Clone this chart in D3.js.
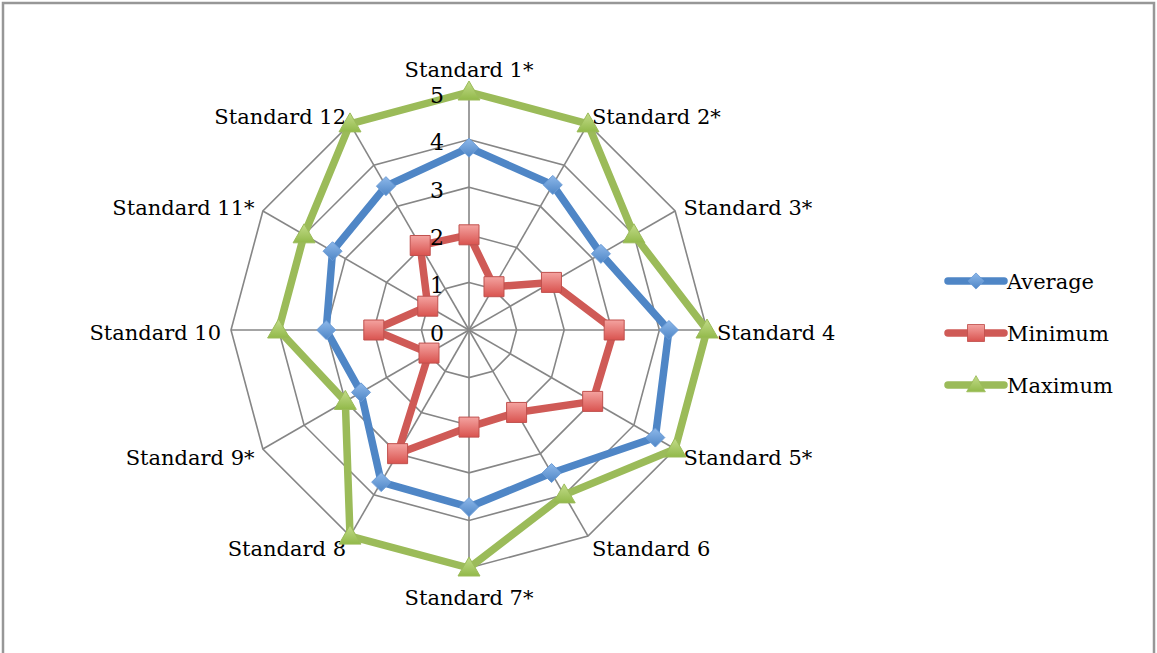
<!DOCTYPE html>
<html>
<head>
<meta charset="utf-8">
<script src="https://cdn.jsdelivr.net/npm/d3@7"></script>
<style>
  html, body { margin: 0; padding: 0; background: #fff; }
  svg text { font-family: "DejaVu Serif", "Liberation Serif", serif; fill: #000; }
</style>
</head>
<body>
<div id="chart"></div>
<script>
const categories = ["Standard 1*", "Standard 2*", "Standard 3*", "Standard 4", "Standard 5*", "Standard 6",
  "Standard 7*", "Standard 8", "Standard 9*", "Standard 10", "Standard 11*", "Standard 12"];
const average = [3.83, 3.52, 3.2, 4.2, 4.52, 3.47, 3.72, 3.69, 2.62, 3.0, 3.31, 3.49];
const minimum = [2.0, 1.05, 2.0, 3.05, 3.0, 2.0, 2.04, 3.0, 0.97, 2.0, 1.0, 2.05];
const maximum = [5, 5, 4, 5, 5, 4, 5, 5, 3, 4, 4, 5];
const ticks = [0, 1, 2, 3, 4, 5];
const seriesNames = ["Average", "Minimum", "Maximum"];

const W = 1157, H = 653;
const cx = 469, cy = 330;

const svg = d3.select("#chart").append("svg")
  .attr("width", W)
  .attr("height", H);

// frame (no bottom edge, like the cropped original)
svg.append("path")
  .attr("d", "M3,653 V3 H1154 V653")
  .attr("fill", "none")
  .attr("stroke", "#979797")
  .attr("stroke-width", 2.5);

const defs = svg.append("defs");
function grad(id, c1, c2) {
  const g = defs.append("linearGradient").attr("id", id)
    .attr("x1", 0).attr("y1", 0).attr("x2", 0).attr("y2", 1);
  g.append("stop").attr("offset", "0%").attr("stop-color", c1);
  g.append("stop").attr("offset", "100%").attr("stop-color", c2);
}
grad("gBlue", "#8db8ea", "#4f86c6");
grad("gRed", "#f4a3a0", "#d9534f");
grad("gGreen", "#c3dc8a", "#92b94a");

const r = d3.scaleLinear().domain([0, 5]).range([0, 238]);
const angle = d3.scaleLinear().domain([0, categories.length]).range([0, 2 * Math.PI]);

function pt(i, v) {
  const a = angle(i);
  return [cx + r(v) * Math.sin(a), cy - r(v) * Math.cos(a)];
}

const grid = svg.append("g");
// rings
ticks.slice(1).forEach(t => {
  grid.append("path")
    .attr("d", d3.line()(categories.map((c, i) => pt(i, t))) + "Z")
    .attr("fill", "none")
    .attr("stroke", "#868686")
    .attr("stroke-width", 1.6);
});
// spokes
categories.forEach((c, i) => {
  const p = pt(i, 5);
  grid.append("line")
    .attr("x1", cx).attr("y1", cy)
    .attr("x2", p[0]).attr("y2", p[1])
    .attr("stroke", "#868686")
    .attr("stroke-width", 1.6);
});

// category labels
categories.forEach((c, i) => {
  const a = angle(i);
  const p = pt(i, 5.25);
  const s = Math.sin(a), co = Math.cos(a);
  let anchor = "middle";
  if (s > 0.1) anchor = "start";
  if (s < -0.1) anchor = "end";
  let dy = 3;
  if (Math.abs(s) < 0.1) dy = co > 0 ? -10 : 18;
  svg.append("text")
    .attr("x", p[0] + (anchor === "start" ? -2 : anchor === "end" ? 2 : 0))
    .attr("y", p[1] + dy)
    .attr("text-anchor", anchor)
    .attr("dominant-baseline", "central")
    .attr("font-size", 21)
    .text(c);
});

// series
const series = [
  {name: "Average", values: average, color: "#4f86c6", fill: "url(#gBlue)", stroke: "#6a9bd6", marker: "diamond"},
  {name: "Minimum", values: minimum, color: "#cf5a56", fill: "url(#gRed)", stroke: "#c0504d", marker: "square"},
  {name: "Maximum", values: maximum, color: "#9bbb59", fill: "url(#gGreen)", stroke: "#9bbb59", marker: "triangle"}
];

function markerPath(type) {
  if (type === "diamond") return "M0,-9.5L9.5,0L0,9.5L-9.5,0Z";
  if (type === "square") return "M-10,-10H10V10H-10Z";
  return "M0,-11L11,8H-11Z";
}

series.forEach(s => {
  const g = svg.append("g");
  g.append("path")
    .attr("d", d3.line()(s.values.map((v, i) => pt(i, v))) + "Z")
    .attr("fill", "none")
    .attr("stroke", s.color)
    .attr("stroke-width", 7.5)
    .attr("stroke-linejoin", "round");
  s.values.forEach((v, i) => {
    const p = pt(i, v);
    g.append("path")
      .attr("transform", "translate(" + p[0] + "," + p[1] + ")")
      .attr("d", markerPath(s.marker))
      .attr("fill", s.fill)
      .attr("stroke", s.stroke)
      .attr("stroke-width", 1);
  });
});

// tick labels
ticks.forEach(t => {
  svg.append("text")
    .attr("x", cx - 25)
    .attr("y", cy - r(t) + 3)
    .attr("text-anchor", "end")
    .attr("dominant-baseline", "central")
    .attr("font-size", 22)
    .text(t);
});

// legend
const legend = svg.append("g").attr("transform", "translate(945,281)");
series.forEach((s, k) => {
  const g = legend.append("g").attr("transform", "translate(0," + (k * 52) + ")");
  g.append("line")
    .attr("x1", 3).attr("x2", 59)
    .attr("stroke", s.color)
    .attr("stroke-width", 7.5)
    .attr("stroke-linecap", "round");
  g.append("path")
    .attr("transform", "translate(31,0) scale(0.85)")
    .attr("d", markerPath(s.marker))
    .attr("fill", s.fill)
    .attr("stroke", s.stroke)
    .attr("stroke-width", 1);
  g.append("text")
    .attr("x", 62)
    .attr("y", 1)
    .attr("dominant-baseline", "central")
    .attr("font-size", 21)
    .text(s.name);
});
</script>
</body>
</html>
